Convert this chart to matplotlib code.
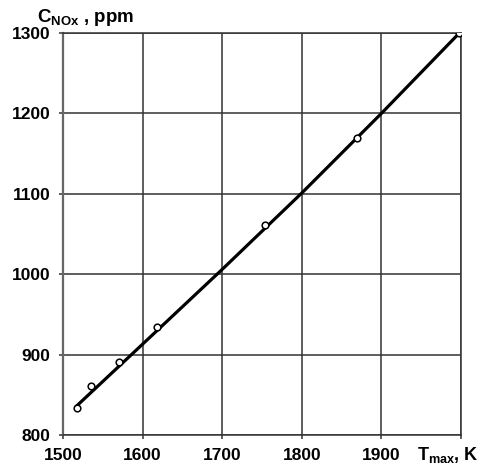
import matplotlib
matplotlib.use("Agg")
import matplotlib.pyplot as plt

plt.rcParams['font.family'] = ['Liberation Sans', 'DejaVu Sans']
plt.rcParams['font.weight'] = 'bold'
plt.rcParams['mathtext.fontset'] = 'custom'
plt.rcParams['mathtext.rm'] = 'Liberation Sans:bold'
plt.rcParams['mathtext.it'] = 'Liberation Sans:bold'
plt.rcParams['mathtext.bf'] = 'Liberation Sans:bold'

# measured points
t_max = [1517, 1535, 1570, 1618, 1754, 1869, 1997]
c_nox = [833, 861, 891, 934, 1061, 1170, 1300]

# approximating curve (nearly straight)
line_t = [1517, 1600, 1700, 1800, 1900, 1997]
line_c = [836, 913, 1006, 1101, 1200, 1299]

x_ticks = [1500, 1600, 1700, 1800, 1900]
x_grid = [1500, 1600, 1700, 1800, 1900, 2000]
y_ticks = [800, 900, 1000, 1100, 1200, 1300]

fig = plt.figure(figsize=(4.82, 4.67), dpi=100)
ax = fig.add_axes([0.1307, 0.0685, 0.8257, 0.8608])

ax.plot(line_t, line_c, color='black', lw=2.3, zorder=3)
ax.plot(t_max, c_nox, 'o', ms=4.8, mfc='white', mec='black', mew=1.1, zorder=4)

ax.set_xlim(1500, 2000)
ax.set_ylim(800, 1300)
ax.set_xticks(x_grid)
ax.set_xticklabels([str(v) for v in x_ticks] + [''])
ax.set_yticks(y_ticks)
ax.grid(True, color='#333333', lw=1.1)
for s in ax.spines.values():
    s.set_color('#333333')
    s.set_linewidth(1.1)
ax.spines['left'].set_color('#666666')
ax.spines['left'].set_linewidth(1.6)
ax.tick_params(length=3, width=1.1, color='#333333', labelsize=12.5)
ax.tick_params(axis='y', pad=6)
ax.tick_params(axis='x', pad=6)
for lab in ax.get_xticklabels() + ax.get_yticklabels():
    lab.set_fontweight('bold')

fig.text(0.077, 0.953, r'$\mathregular{C_{NOx}}$ , ppm', fontsize=13.5, fontweight='bold',
         ha='left', va='baseline')
fig.text(0.866, 0.016, r'$\mathregular{T_{max}}$, K', fontsize=13, fontweight='bold',
         ha='left', va='baseline')

fig.savefig('out.png', dpi=100)
